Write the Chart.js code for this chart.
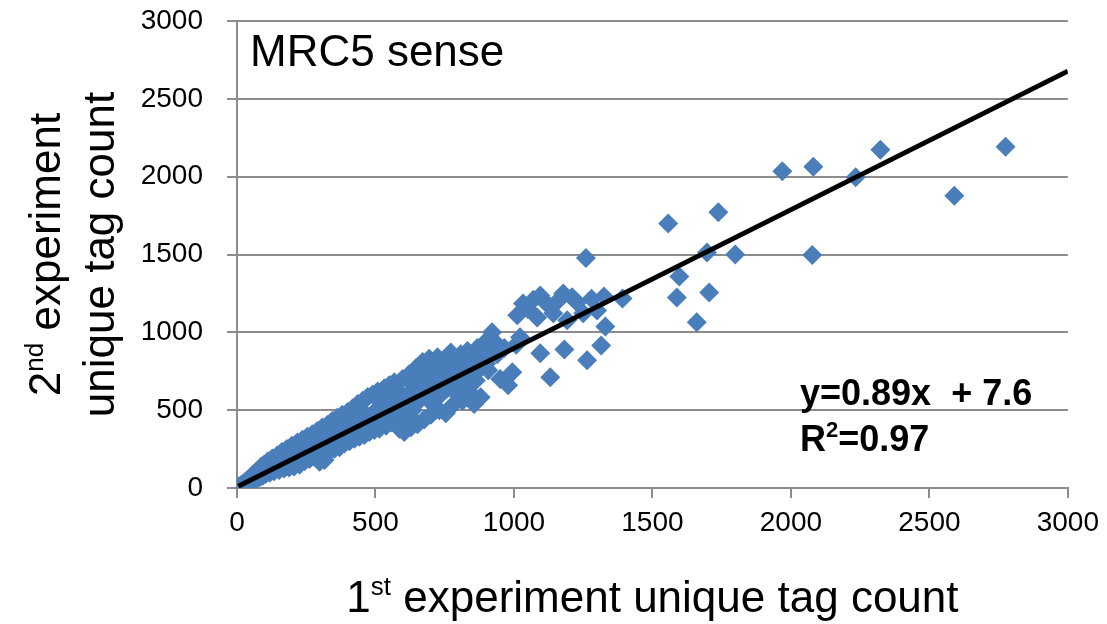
<!DOCTYPE html>
<html>
<head>
<meta charset="utf-8">
<script src="https://cdn.jsdelivr.net/npm/chart.js@4.4.0/dist/chart.umd.min.js"></script>
<style>
  html, body { margin: 0; padding: 0; background: #fff; }
  #wrap { width: 1107px; height: 624px; position: relative; }
</style>
</head>
<body>
<div id="wrap"><canvas id="tagChart"></canvas></div>
<script>
// 坐标轴刻度
var xTicks = [0, 500, 1000, 1500, 2000, 2500, 3000];
var yTicks = [0, 500, 1000, 1500, 2000, 2500, 3000];

// 密集区域 (1st, 2nd)
var denseCluster = [
  [3,2],[6,9],[10,4],[14,18],[18,10],[22,28],[26,16],[30,40],[34,24],[38,52],[42,32],[46,64],[50,40],[54,78],[58,48],
  [62,90],[66,56],[70,104],[75,64],[80,118],[85,72],[88,138],[94,80],[98,150],[104,92],[108,124],[112,172],[118,98],
  [124,146],[128,190],[134,108],[140,160],[146,210],[152,116],[158,178],[162,232],[170,126],[176,196],[180,250],
  [188,132],[194,210],[198,272],[206,138],[212,232],[218,292],[226,150],[232,246],[236,310],[244,172],[250,262],
  [254,330],[262,186],[268,250],[272,346],[280,200],[286,290],[290,366],[298,168],[304,270],[308,388],[316,180],
  [322,320],[326,404],[334,236],[340,300],[344,430],[352,252],[358,360],[362,452],[370,262],[376,330],[380,470],
  [388,286],[394,398],[400,488],[406,300],[412,360],[418,512],[424,316],[430,430],[436,540],[442,330],[448,390],
  [454,560],[460,340],[466,470],[472,584],[478,360],[484,420],[490,600],[496,372],[502,500],[508,620],[514,380],
  [520,450],[526,560],[532,640],[538,400],[544,510],[550,660],[556,420],[562,580],[568,680],[574,470],[580,620],
  [586,380],[592,530],[598,700],[604,360],[610,440],[616,600],[622,730],[628,390],[634,500],[640,660],[646,770],
  [652,410],[658,560],[664,700],[670,810],[676,440],[682,610],[688,740],[694,830],[700,470],[706,540],[712,660],
  [718,780],[724,840],[730,500],[736,600],[742,720],[748,820],[754,480],[760,640],[766,760],[772,870],[778,530],
  [784,690],[790,800],[796,600],[802,740],[808,860],[814,560],[820,660],[826,780],[832,880],[838,620],[844,720],
  [850,820],[856,540],[862,690],[868,900],[874,760],[880,583],[886,840],[892,930],[900,800],[907,756],[914,880],
  [921,1000],[930,940],[940,860],[950,700],[965,900],[979,660],[994,744],[1008,920]
];

// 分散的点
var spreadPoints = [
  [1012,1109],[1022,968],[1033,1186],[1050,1150],[1070,1210],[1084,1096],[1095,1237],[1095,865],[1115,1190],
  [1131,712],[1142,1122],[1160,1205],[1178,1250],[1182,890],[1192,1077],[1210,1225],[1228,1192],[1250,1122],
  [1264,820],[1280,1215],[1300,1141],[1315,915],[1325,1230],[1330,1038],[1392,1218],[1260,1478],[1557,1699],
  [1588,1224],[1597,1359],[1660,1064],[1697,1513],[1705,1256],[1738,1772],[1799,1500],[1969,2035],[2081,2064],
  [2077,1497],[2234,1997],[2323,2173],[2590,1878],[2775,2192]
];

// 趋势线 y=0.89x+7.6
var trendX = [5, 3000];
var trendY = [12, 2678];

var FONT = "'Liberation Sans', Arial, sans-serif";
var blue = '#4a7ebb';
var gray = '#8c8c8c';

function toXY(list) {
  return list.map(function (p) { return { x: p[0], y: p[1] }; });
}

// 带上标的文字
function drawRuns(ctx, runs, x, y, size, bold, center) {
  var sup = Math.round(size * 0.6);
  var w = 0;
  runs.forEach(function (r) {
    ctx.font = (bold ? 'bold ' : '') + (r[1] ? sup : size) + 'px ' + FONT;
    w += ctx.measureText(r[0]).width;
  });
  var cx = center ? x - w / 2 : x;
  runs.forEach(function (r) {
    ctx.font = (bold ? 'bold ' : '') + (r[1] ? sup : size) + 'px ' + FONT;
    ctx.fillText(r[0], cx, r[1] ? y - size * 0.38 : y);
    cx += ctx.measureText(r[0]).width;
  });
}

var titlePlugin = {
  id: 'titles',
  afterDraw: function (chart) {
    var ctx = chart.ctx;
    var area = chart.chartArea;
    ctx.save();
    ctx.fillStyle = '#000';
    ctx.textAlign = 'left';
    ctx.textBaseline = 'alphabetic';
    // x轴标题
    drawRuns(ctx, [['1', false], ['st', true], [' experiment unique tag count', false]],
      (area.left + area.right) / 2, 612, 44, false, true);
    // y轴标题 (两行)
    var cy = (area.top + area.bottom) / 2;
    ctx.save();
    ctx.translate(60, cy);
    ctx.rotate(-Math.PI / 2);
    drawRuns(ctx, [['2', false], ['nd', true], [' experiment', false]], 0, 0, 44, false, true);
    ctx.restore();
    ctx.save();
    ctx.translate(114, cy);
    ctx.rotate(-Math.PI / 2);
    drawRuns(ctx, [['unique tag count', false]], 0, 0, 44, false, true);
    ctx.restore();
    // 图内文字
    drawRuns(ctx, [['MRC5 sense', false]], 250, 66, 44, false, false);
    drawRuns(ctx, [['y=0.89x  + 7.6', false]], 800, 405, 36, true, false);
    drawRuns(ctx, [['R', false], ['2', true], ['=0.97', false]], 800, 451, 36, true, false);
    ctx.restore();
  }
};

var ctx = document.getElementById('tagChart').getContext('2d');

var tagChart = new Chart(ctx, {
  type: 'scatter',
  data: {
    datasets: [{
      label: 'trend',
      data: trendX.map(function (x, i) { return { x: x, y: trendY[i] }; }),
      showLine: true,
      borderColor: '#000',
      borderWidth: 5,
      pointRadius: 0,
      order: 0
    }, {
      label: 'dense',
      data: toXY(denseCluster),
      pointStyle: 'rectRot',
      pointRadius: 10,
      backgroundColor: blue,
      borderColor: blue,
      borderWidth: 0,
      order: 1
    }, {
      label: 'spread',
      data: toXY(spreadPoints),
      pointStyle: 'rectRot',
      pointRadius: 10,
      backgroundColor: blue,
      borderColor: blue,
      borderWidth: 0,
      order: 1
    }]
  },
  options: {
    responsive: true,
    maintainAspectRatio: false,
    animation: false,
    layout: { padding: { left: 0, top: 21, right: 39, bottom: 0 } },
    plugins: {
      legend: { display: false },
      tooltip: { enabled: false }
    },
    scales: {
      x: {
        type: 'linear',
        min: 0,
        max: 3000,
        afterBuildTicks: function (s) { s.ticks = xTicks.map(function (v) { return { value: v }; }); },
        afterFit: function (s) { s.height = 136; },
        ticks: { color: '#000', font: { family: FONT, size: 28 }, padding: 8, maxRotation: 0,
          callback: function (v) { return String(v); } },
        grid: { drawOnChartArea: false, drawTicks: true, tickLength: 10, color: gray, lineWidth: 2 },
        border: { color: gray, width: 2 }
      },
      y: {
        min: 0,
        max: 3000,
        afterBuildTicks: function (s) { s.ticks = yTicks.map(function (v) { return { value: v }; }); },
        afterFit: function (s) { s.width = 237; s.paddingTop = 10; s.paddingBottom = 10; },
        ticks: { color: '#000', font: { family: FONT, size: 28 }, padding: 24,
          callback: function (v) { return String(v); } },
        grid: { color: gray, lineWidth: 2, tickLength: 10 },
        border: { color: gray, width: 2 }
      }
    }
  },
  plugins: [titlePlugin]
});
</script>
</body>
</html>
